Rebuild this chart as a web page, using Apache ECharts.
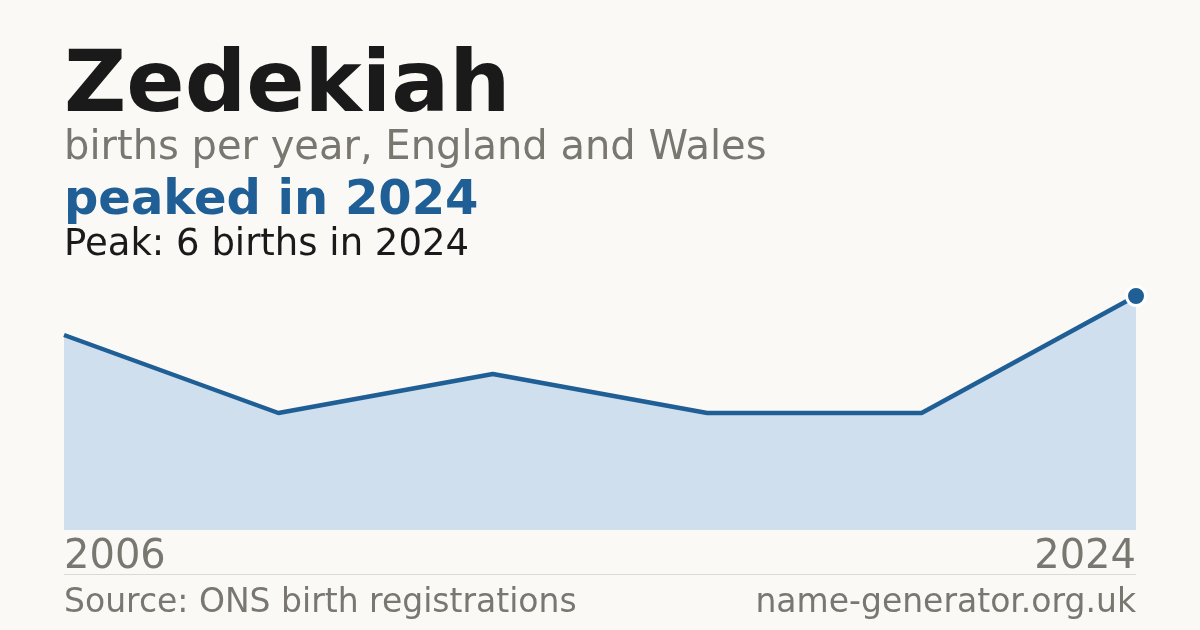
<!DOCTYPE html>
<html>
<head>
<meta charset="utf-8">
<script src="https://cdn.jsdelivr.net/npm/echarts@6/dist/echarts.min.js"></script>
<style>
  html, body { margin: 0; padding: 0; background: #faf9f5; }
  #chart { width: 1200px; height: 630px; }
</style>
</head>
<body>
<div id="chart"></div>
<script>
const years = ["2006", "2009", "2013", "2016", "2020", "2024"];
const births = [5, 3, 4, 3, 3, 6];
const nameTitle = "Zedekiah";
const subtitle = "births per year, England and Wales";
const headline = "peaked in 2024";
const peakNote = "Peak: 6 births in 2024";
const sourceNote = "Source: ONS birth registrations";
const siteNote = "name-generator.org.uk";

const blue = "#1f5f96";
const grey = "#7a7670";
const ink = "#1a1a1a";
const font = "DejaVu Sans";

const chart = echarts.init(document.getElementById("chart"));

// y is the top of the text line
function text(x, y, str, size, color, weight, align) {
  return {
    type: "text",
    x: x,
    y: y,
    style: {
      text: str,
      fontFamily: font,
      fontSize: size,
      fontWeight: weight || "normal",
      fill: color,
      align: align || "left",
      verticalAlign: "top"
    }
  };
}

chart.setOption({
  backgroundColor: "#faf9f5",
  animation: false,
  grid: { left: 64, right: 64, top: 296, bottom: 100 },
  xAxis: {
    type: "category",
    data: years,
    boundaryGap: false,
    axisLine: { show: false },
    axisTick: { show: false },
    splitLine: { show: false },
    axisLabel: {
      interval: (i) => i === 0 || i === years.length - 1,
      margin: 8,
      fontFamily: font,
      fontSize: 40,
      color: grey,
      alignMinLabel: "left",
      alignMaxLabel: "right"
    }
  },
  yAxis: {
    type: "value",
    min: 0,
    max: 6,
    show: false,
    splitLine: { show: false }
  },
  series: [{
    type: "line",
    data: births.map((v, i) => i === births.length - 1
      ? { value: v, symbol: "circle", symbolSize: 19 }
      : { value: v, symbol: "none" }),
    clip: false,
    lineStyle: { color: blue, width: 4.5 },
    itemStyle: { color: blue, borderColor: "#ffffff", borderWidth: 3 },
    areaStyle: { color: "#cfdfee", opacity: 1 }
  }],
  graphic: [
    text(64, 46, nameTitle, 86, ink, "bold"),
    text(64, 129, subtitle, 40, grey),
    text(64, 178, headline, 48, blue, "bold"),
    text(64, 227, peakNote, 37, ink),
    {
      type: "line",
      shape: { x1: 64, y1: 574.5, x2: 1136, y2: 574.5 },
      style: { stroke: "#dcd9d2", lineWidth: 1 }
    },
    text(64, 587, sourceNote, 33, grey),
    text(1136, 587, siteNote, 33, grey, "normal", "right")
  ]
});
</script>
</body>
</html>
